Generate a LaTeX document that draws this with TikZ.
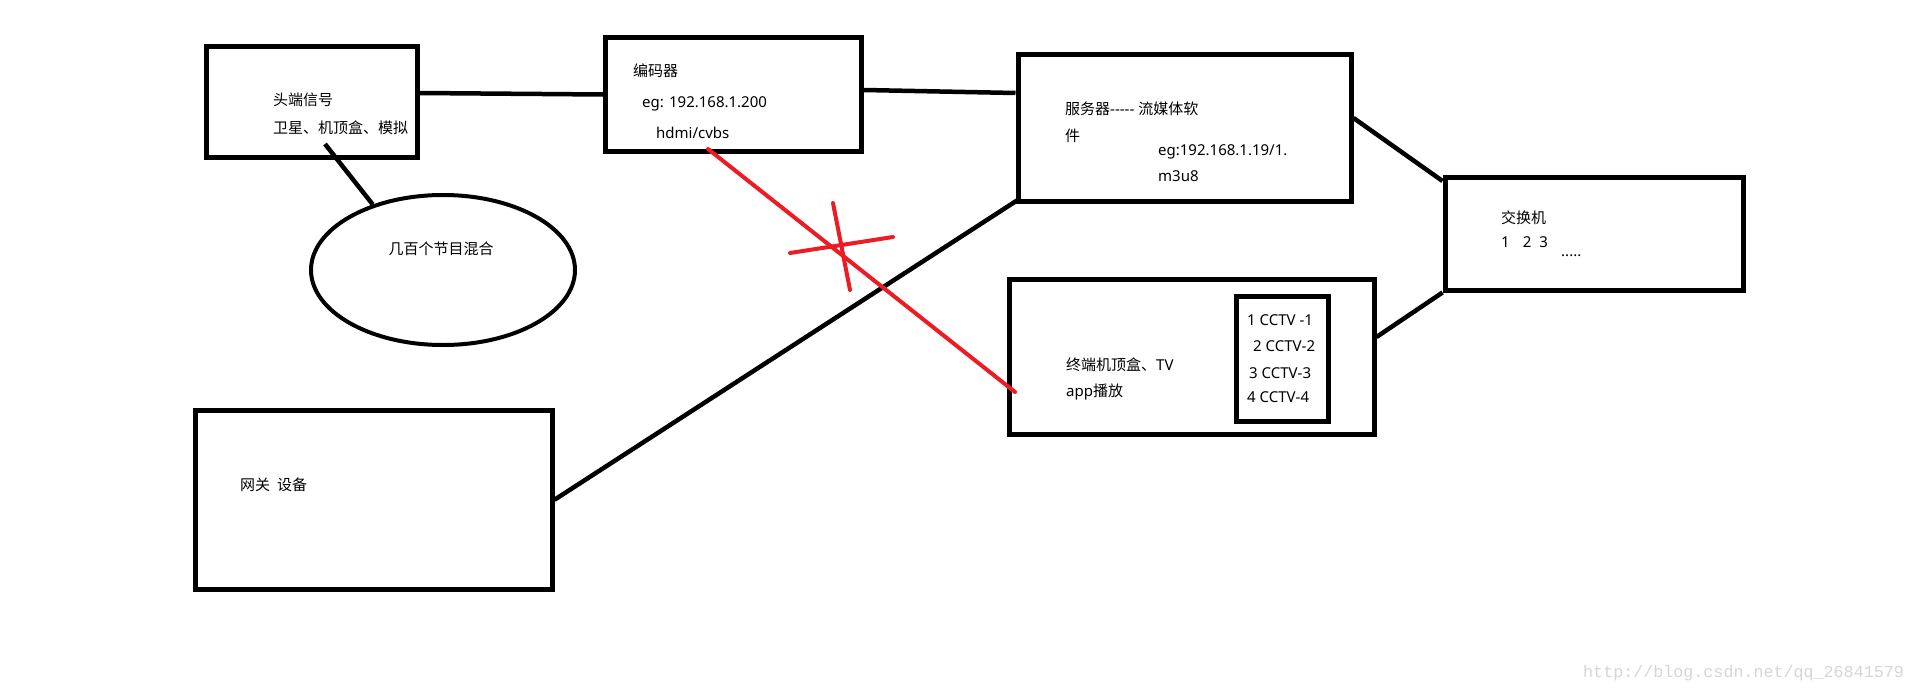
\documentclass[tikz,border=0pt]{standalone}
\usepackage{fontspec}
\setmainfont{Noto Sans}
\newfontfamily\cjk{Noto Sans CJK SC}
\newfontfamily\wmfont{Liberation Mono}
\usetikzlibrary{shapes.geometric}
\definecolor{paintred}{RGB}{237,28,36}
\definecolor{wmgray}{RGB}{214,214,214}
\begin{document}
\begin{tikzpicture}[x=1pt,y=-1pt,
  box/.style={draw, line width=5pt, inner sep=0pt, rectangle},
  lbl/.style={anchor=base west, inner sep=0pt, font=\fontsize{15}{18}\selectfont},
  wire/.style={line width=4.5pt},
  redwire/.style={draw=paintred, line width=4pt, line cap=round}]
\useasboundingbox (0,0) rectangle (1914,693);
\fill[white] (0,0) rectangle (1914,693);

% boxes
\node[box, minimum width=210.5pt, minimum height=110.5pt] (head) at (311.75,101.75) {};
\node[box, minimum width=256pt, minimum height=114pt] (enc) at (733.5,94.5) {};
\node[box, minimum width=333pt, minimum height=146.5pt] (srv) at (1184.5,127.75) {};
\node[box, minimum width=298pt, minimum height=113pt] (sw) at (1594,233.5) {};
\node[box, minimum width=365pt, minimum height=155pt] (term) at (1191.5,356.5) {};
\node[box, minimum width=92pt, minimum height=125pt] (chan) at (1282,358.5) {};
\node[box, minimum width=356.5pt, minimum height=178.5pt] (gw) at (373.75,499.75) {};
\node[draw, ellipse, line width=4pt, inner sep=0pt, minimum width=264pt, minimum height=150pt] (ell) at (443,270) {};

% texts
\node[lbl] (t1) at (273,106) {\cjk 头端信号};
\node[lbl] (t2) at (273,133) {\cjk 卫星、机顶盒、模拟};
\node[lbl] (t3) at (633,77) {\cjk 编码器};
\node[lbl] (t4) at (642,107) {eg: 192.168.1.200};
\node[lbl] (t5) at (656,138) {hdmi/cvbs};
\node[lbl] (t6) at (1065,114) {{\cjk 服务器}-\kern0pt-\kern0pt-\kern0pt-\kern0pt- {\cjk 流媒体软}};
\node[lbl] (t7) at (1065,141) {\cjk 件};
\node[lbl] (t8) at (1158,155) {eg:192.168.1.19/1.};
\node[lbl] (t9) at (1158,181) {m3u8};
\node[lbl] (t10) at (1501,223) {\cjk 交换机};
\node[lbl] (t11) at (1501,247) {1\hspace{13pt}2\hspace{8pt}3};
\node[lbl] (t12) at (1561,256) {.....};
\node[lbl] (t13) at (1066,370) {{\cjk 终端机顶盒、}TV};
\node[lbl] (t14) at (1066,396) {app{\cjk 播放}};
\node[lbl] (t15) at (1247,325) {1 CCTV -1};
\node[lbl] (t16) at (1253,351) {2 CCTV-2};
\node[lbl] (t17) at (1249,378) {3 CCTV-3};
\node[lbl] (t18) at (1247,402) {4 CCTV-4};
\node[lbl, anchor=base] (t19) at (441,254) {\cjk 几百个节目混合};
\node[lbl] (t20) at (240,490) {\cjk 网关\hspace{7pt}设备};
\node[anchor=base west, inner sep=0pt, text=wmgray, font=\wmfont\fontsize{16.7}{20}\selectfont] (wm) at (1583,677) {http://blog.csdn.net/qq\_26841579};

% connectors
\draw[wire] ([yshift=8.75pt]head.east) -- (enc.west);
\draw[wire] ([yshift=4.5pt]enc.east) -- ([yshift=34.75pt]srv.west);
\draw[wire] ([yshift=9.75pt]srv.east) -- ([yshift=52.5pt]sw.west);
\draw[wire] (sw.south west) -- ([yshift=19.5pt]term.east);
\draw[wire] ([xshift=13.25pt,yshift=15.5pt]head.south) -- (ell.137);
\draw[wire] (gw.east) -- ([xshift=3pt,yshift=4pt]srv.south west);
\draw[redwire] ([xshift=-25.5pt,yshift=5pt]enc.south) -- ([xshift=8.5pt,yshift=-35.5pt]term.west);

% red cross
\draw[redwire] (790,253) -- (893,237);
\draw[redwire] (833,203) -- (850,290);
\end{tikzpicture}
\end{document}
